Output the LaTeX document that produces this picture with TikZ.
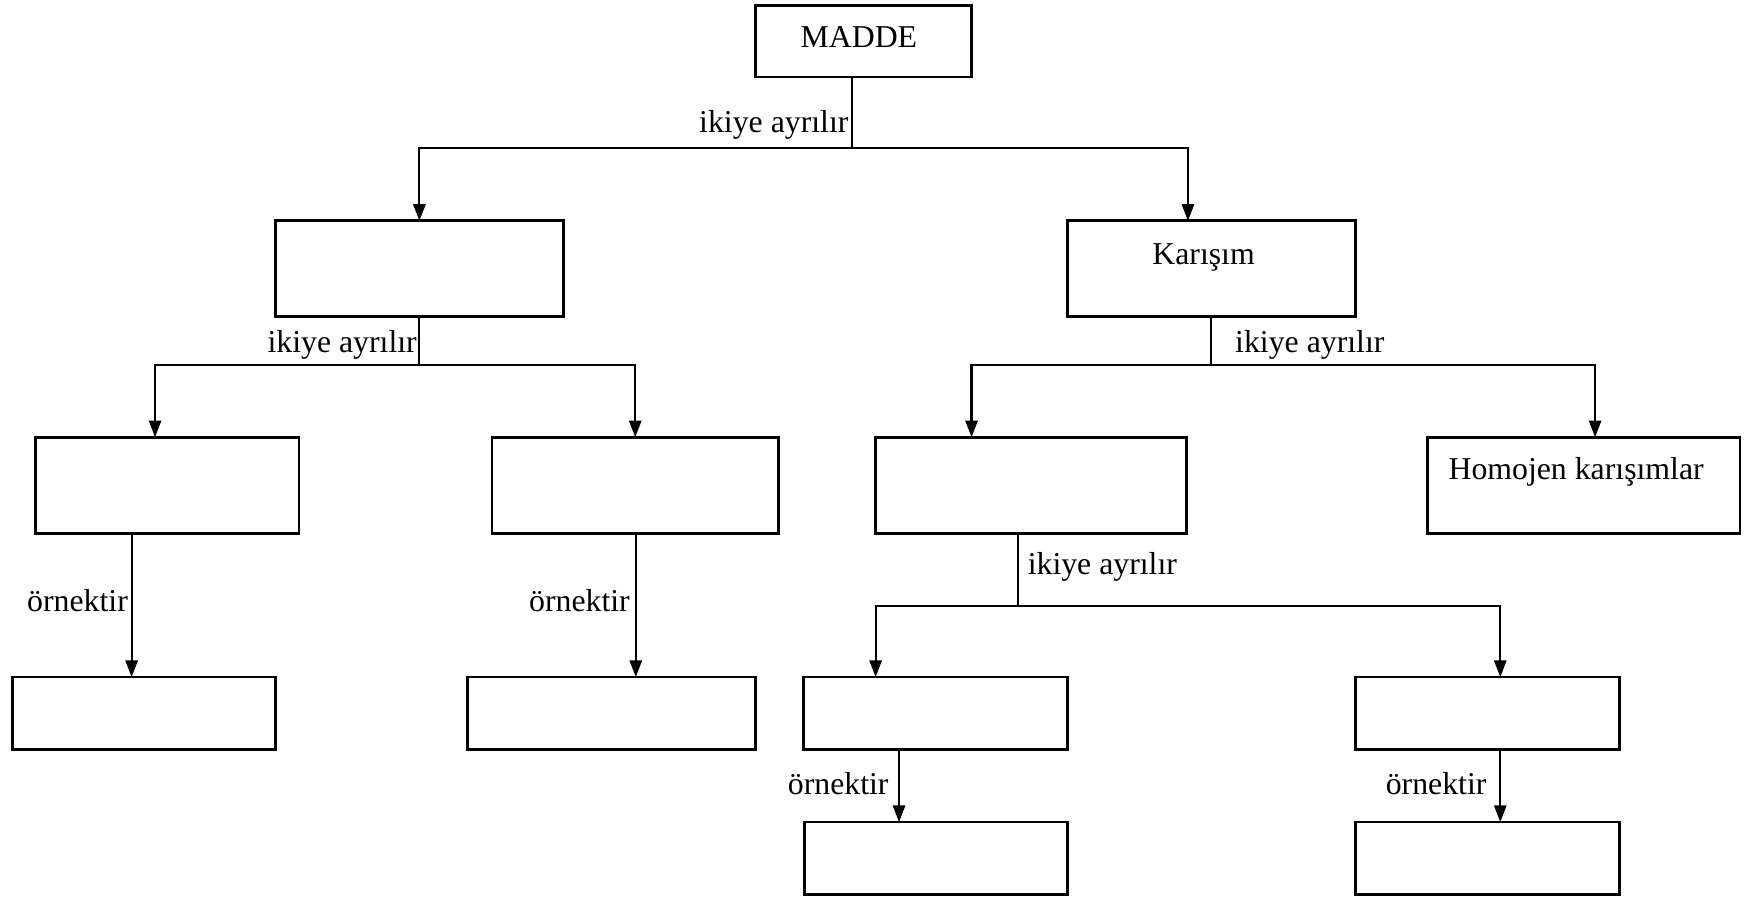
\documentclass[tikz,border=0pt]{standalone}
\usepackage{fontspec}
\setmainfont{Liberation Serif}
\usetikzlibrary{arrows.meta,calc}
\begin{document}
\begin{tikzpicture}[x=0.5pt,y=-0.5pt,
 box/.style={draw,line width=1.25pt,inner sep=0pt,outer sep=0pt,minimum height=43pt},
 sbox/.style={box,minimum height=32.5pt},
 conn/.style={line width=0.95pt},
 arr/.style={conn,-{Triangle[length=7.5pt,width=5.5pt]}},
 txt/.style={font=\fontsize{14.25}{17}\selectfont,inner sep=0pt},
 lbl/.style={txt}]
\useasboundingbox (0,0) rectangle (1568,805);
% boxes
\node[box,minimum width=97pt,minimum height=32pt] (madde) at (774,37) {};
\node[box,minimum width=129pt] (l1) at (376,241) {};
\node[box,minimum width=129pt] (kar) at (1086,241) {};
\node[box,minimum width=118pt] (a1) at (150,435) {};
\node[box,minimum width=128.5pt] (a2) at (569.5,435) {};
\node[box,minimum width=139.5pt] (b1) at (924.5,435) {};
\node[box,minimum width=140pt] (hom) at (1420,435) {};
\node[sbox,minimum width=118pt] (a1x) at (129,639.5) {};
\node[sbox,minimum width=129pt] (a2x) at (548,639.5) {};
\node[sbox,minimum width=118.5pt] (c1) at (838.5,639.5) {};
\node[sbox,minimum width=118.5pt] (c2) at (1333.5,639.5) {};
\node[sbox,minimum width=118pt] (c1x) at (839,769.5) {};
\node[sbox,minimum width=118.5pt] (c2x) at (1333.5,769.5) {};
% box texts
\node[txt,anchor=base] (tmadde) at (770,43) {MADDE};
\node[txt,anchor=base] (tkar) at (1079,237) {Karışım};
\node[txt,anchor=base] (thom) at (1413,430) {Homojen karışımlar};
% junctions
\coordinate (j0) at (764,133);
\coordinate (j1) at (376,327);
\coordinate (j2) at (1086,327);
\coordinate (j3) at (913,543);
% level 0
\draw[conn] (madde.south -| j0) -- (j0);
\draw[arr] (j0) -| (l1.north);
\draw[arr] (j0) -| ($(kar.north)+(-21,0)$);
\node[lbl,anchor=base east] (lb0) at (761,119) {ikiye ayrılır};
% level 1 left
\draw[conn] (l1.south) -- (j1);
\draw[arr] (j1) -| ($(a1.north)+(-11,0)$);
\draw[arr] (j1) -| (a2.north);
\node[lbl,anchor=base east] (lb1) at (374,316) {ikiye ayrılır};
% level 1 right
\draw[conn] (kar.south) -- (j2);
\draw[arr] (j2) -| ($(b1.north)+(-53.5,0)$);
\draw[arr] (j2) -| ($(hom.north)+(10,0)$);
\node[lbl,anchor=base west] (lb2) at (1107,316) {ikiye ayrılır};
% level 2 right
\draw[conn] (b1.south -| j3) -- (j3);
\draw[arr] (j3) -| ($(c1.north)+(-53.5,0)$);
\draw[arr] (j3) -| ($(c2.north)+(11.5,0)$);
\node[lbl,anchor=base west] (lb3) at (921,515) {ikiye ayrılır};
% examples
\coordinate (p1) at ($(a1.south)+(-32,0)$);
\draw[arr] (p1) -- (p1 |- a1x.north);
\node[lbl,anchor=base east] (e1) at (115,548) {örnektir};
\coordinate (p2) at ($(a2.south)+(0.5,0)$);
\draw[arr] (p2) -- (p2 |- a2x.north);
\node[lbl,anchor=base east] (e2) at (565,548) {örnektir};
\coordinate (p3) at ($(c1.south)+(-32.5,0)$);
\draw[arr] (p3) -- (p3 |- c1x.north);
\node[lbl,anchor=base east] (e3) at (797,712) {örnektir};
\coordinate (p4) at ($(c2.south)+(11.5,0)$);
\draw[arr] (p4) -- (p4 |- c2x.north);
\node[lbl,anchor=base east] (e4) at (1333,712) {örnektir};
\end{tikzpicture}
\end{document}
